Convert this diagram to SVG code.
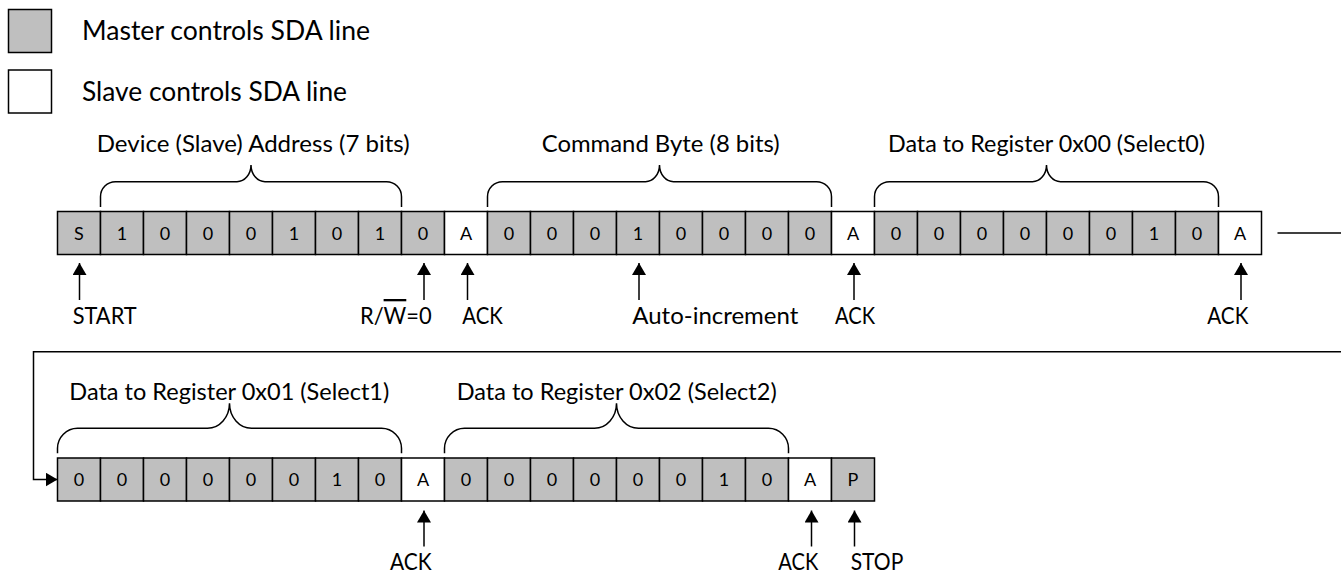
<svg xmlns="http://www.w3.org/2000/svg" width="1341" height="574" viewBox="0 0 1341 574">
<defs>
<style>
text{font-family:Lato,"Open Sans","Liberation Sans",sans-serif;fill:#000}
.m{fill:#bfbfbf;stroke:#000;stroke-width:1.5}
.s{fill:#fff;stroke:#000;stroke-width:1.5}
.ct{font-size:18px;text-anchor:middle}
.lg{font-size:26px}
.lb{font-size:23px}
.br{fill:none;stroke:#000;stroke-width:1.5}
.cn{fill:none;stroke:#000;stroke-width:1.5}
.ar{marker-end:url(#ah)}
</style>
<marker id="ah" markerUnits="userSpaceOnUse" viewBox="0 0 12 14" refX="12" refY="7" markerWidth="12" markerHeight="14" orient="auto">
<path d="M0,0 L12,7 L0,14 z" fill="#000"/>
</marker>
</defs>
<rect width="1341" height="574" fill="#fff"/>
<g id="legend">
<g id="legend-master"><rect class="m" x="8.5" y="9.5" width="43" height="43"/><text class="lg" x="82" y="40.3" textLength="288" lengthAdjust="spacingAndGlyphs">Master controls SDA line</text></g>
<g id="legend-slave"><rect class="s" x="8.5" y="70" width="43" height="43"/><text class="lg" x="82" y="100.8" textLength="265" lengthAdjust="spacingAndGlyphs">Slave controls SDA line</text></g>
</g>
<g id="row1">
<g id="r1c0"><rect class="m" x="57.5" y="211.5" width="43" height="43"/><text class="ct" x="79" y="239.5">S</text></g>
<g id="r1c1"><rect class="m" x="100.5" y="211.5" width="43" height="43"/><text class="ct" x="122" y="239.5">1</text></g>
<g id="r1c2"><rect class="m" x="143.5" y="211.5" width="43" height="43"/><text class="ct" x="165" y="239.5">0</text></g>
<g id="r1c3"><rect class="m" x="186.5" y="211.5" width="43" height="43"/><text class="ct" x="208" y="239.5">0</text></g>
<g id="r1c4"><rect class="m" x="229.5" y="211.5" width="43" height="43"/><text class="ct" x="251" y="239.5">0</text></g>
<g id="r1c5"><rect class="m" x="272.5" y="211.5" width="43" height="43"/><text class="ct" x="294" y="239.5">1</text></g>
<g id="r1c6"><rect class="m" x="315.5" y="211.5" width="43" height="43"/><text class="ct" x="337" y="239.5">0</text></g>
<g id="r1c7"><rect class="m" x="358.5" y="211.5" width="43" height="43"/><text class="ct" x="380" y="239.5">1</text></g>
<g id="r1c8"><rect class="m" x="401.5" y="211.5" width="43" height="43"/><text class="ct" x="423" y="239.5">0</text></g>
<g id="r1c9"><rect class="s" x="444.5" y="211.5" width="43" height="43"/><text class="ct" x="466" y="239.5">A</text></g>
<g id="r1c10"><rect class="m" x="487.5" y="211.5" width="43" height="43"/><text class="ct" x="509" y="239.5">0</text></g>
<g id="r1c11"><rect class="m" x="530.5" y="211.5" width="43" height="43"/><text class="ct" x="552" y="239.5">0</text></g>
<g id="r1c12"><rect class="m" x="573.5" y="211.5" width="43" height="43"/><text class="ct" x="595" y="239.5">0</text></g>
<g id="r1c13"><rect class="m" x="616.5" y="211.5" width="43" height="43"/><text class="ct" x="638" y="239.5">1</text></g>
<g id="r1c14"><rect class="m" x="659.5" y="211.5" width="43" height="43"/><text class="ct" x="681" y="239.5">0</text></g>
<g id="r1c15"><rect class="m" x="702.5" y="211.5" width="43" height="43"/><text class="ct" x="724" y="239.5">0</text></g>
<g id="r1c16"><rect class="m" x="745.5" y="211.5" width="43" height="43"/><text class="ct" x="767" y="239.5">0</text></g>
<g id="r1c17"><rect class="m" x="788.5" y="211.5" width="43" height="43"/><text class="ct" x="810" y="239.5">0</text></g>
<g id="r1c18"><rect class="s" x="831.5" y="211.5" width="43" height="43"/><text class="ct" x="853" y="239.5">A</text></g>
<g id="r1c19"><rect class="m" x="874.5" y="211.5" width="43" height="43"/><text class="ct" x="896" y="239.5">0</text></g>
<g id="r1c20"><rect class="m" x="917.5" y="211.5" width="43" height="43"/><text class="ct" x="939" y="239.5">0</text></g>
<g id="r1c21"><rect class="m" x="960.5" y="211.5" width="43" height="43"/><text class="ct" x="982" y="239.5">0</text></g>
<g id="r1c22"><rect class="m" x="1003.5" y="211.5" width="43" height="43"/><text class="ct" x="1025" y="239.5">0</text></g>
<g id="r1c23"><rect class="m" x="1046.5" y="211.5" width="43" height="43"/><text class="ct" x="1068" y="239.5">0</text></g>
<g id="r1c24"><rect class="m" x="1089.5" y="211.5" width="43" height="43"/><text class="ct" x="1111" y="239.5">0</text></g>
<g id="r1c25"><rect class="m" x="1132.5" y="211.5" width="43" height="43"/><text class="ct" x="1154" y="239.5">1</text></g>
<g id="r1c26"><rect class="m" x="1175.5" y="211.5" width="43" height="43"/><text class="ct" x="1197" y="239.5">0</text></g>
<g id="r1c27"><rect class="s" x="1218.5" y="211.5" width="43" height="43"/><text class="ct" x="1240" y="239.5">A</text></g>
</g>
<g id="row2">
<g id="r2c0"><rect class="m" x="57.5" y="458" width="43" height="43"/><text class="ct" x="79" y="486">0</text></g>
<g id="r2c1"><rect class="m" x="100.5" y="458" width="43" height="43"/><text class="ct" x="122" y="486">0</text></g>
<g id="r2c2"><rect class="m" x="143.5" y="458" width="43" height="43"/><text class="ct" x="165" y="486">0</text></g>
<g id="r2c3"><rect class="m" x="186.5" y="458" width="43" height="43"/><text class="ct" x="208" y="486">0</text></g>
<g id="r2c4"><rect class="m" x="229.5" y="458" width="43" height="43"/><text class="ct" x="251" y="486">0</text></g>
<g id="r2c5"><rect class="m" x="272.5" y="458" width="43" height="43"/><text class="ct" x="294" y="486">0</text></g>
<g id="r2c6"><rect class="m" x="315.5" y="458" width="43" height="43"/><text class="ct" x="337" y="486">1</text></g>
<g id="r2c7"><rect class="m" x="358.5" y="458" width="43" height="43"/><text class="ct" x="380" y="486">0</text></g>
<g id="r2c8"><rect class="s" x="401.5" y="458" width="43" height="43"/><text class="ct" x="423" y="486">A</text></g>
<g id="r2c9"><rect class="m" x="444.5" y="458" width="43" height="43"/><text class="ct" x="466" y="486">0</text></g>
<g id="r2c10"><rect class="m" x="487.5" y="458" width="43" height="43"/><text class="ct" x="509" y="486">0</text></g>
<g id="r2c11"><rect class="m" x="530.5" y="458" width="43" height="43"/><text class="ct" x="552" y="486">0</text></g>
<g id="r2c12"><rect class="m" x="573.5" y="458" width="43" height="43"/><text class="ct" x="595" y="486">0</text></g>
<g id="r2c13"><rect class="m" x="616.5" y="458" width="43" height="43"/><text class="ct" x="638" y="486">0</text></g>
<g id="r2c14"><rect class="m" x="659.5" y="458" width="43" height="43"/><text class="ct" x="681" y="486">0</text></g>
<g id="r2c15"><rect class="m" x="702.5" y="458" width="43" height="43"/><text class="ct" x="724" y="486">1</text></g>
<g id="r2c16"><rect class="m" x="745.5" y="458" width="43" height="43"/><text class="ct" x="767" y="486">0</text></g>
<g id="r2c17"><rect class="s" x="788.5" y="458" width="43" height="43"/><text class="ct" x="810" y="486">A</text></g>
<g id="r2c18"><rect class="m" x="831.5" y="458" width="43" height="43"/><text class="ct" x="853" y="486">P</text></g>
</g>
<g id="braces">
<g id="brace-address"><path class="br" d="M100.5,207 V196.7 A15,15 0 0 1 115.5,181.7 H237 A14,16.7 0 0 0 251,165 A14,16.7 0 0 0 265,181.7 H386.5 A15,15 0 0 1 401.5,196.7 V207"/><text class="lb" x="96.7" y="152" textLength="313" lengthAdjust="spacingAndGlyphs">Device (Slave) Address (7 bits)</text></g>
<g id="brace-command"><path class="br" d="M487.5,207 V196.7 A15,15 0 0 1 502.5,181.7 H645.5 A14,16.7 0 0 0 659.5,165 A14,16.7 0 0 0 673.5,181.7 H816.5 A15,15 0 0 1 831.5,196.7 V207"/><text class="lb" x="541.7" y="152" textLength="238" lengthAdjust="spacingAndGlyphs">Command Byte (8 bits)</text></g>
<g id="brace-data0"><path class="br" d="M874.5,207 V196.7 A15,15 0 0 1 889.5,181.7 H1032.5 A14,16.7 0 0 0 1046.5,165 A14,16.7 0 0 0 1060.5,181.7 H1203.5 A15,15 0 0 1 1218.5,196.7 V207"/><text class="lb" x="888" y="152" textLength="317" lengthAdjust="spacingAndGlyphs">Data to Register 0x00 (Select0)</text></g>
<g id="brace-data1"><path class="br" d="M57.5,453.3 V448.3 A20,20 0 0 1 77.5,428.3 H207.5 A22,25 0 0 0 229.5,403.3 A22,25 0 0 0 251.5,428.3 H381.5 A20,20 0 0 1 401.5,448.3 V453.3"/><text class="lb" x="69.3" y="399.5" textLength="320" lengthAdjust="spacingAndGlyphs">Data to Register 0x01 (Select1)</text></g>
<g id="brace-data2"><path class="br" d="M444.5,453.3 V448.3 A20,20 0 0 1 464.5,428.3 H594.5 A22,25 0 0 0 616.5,403.3 A22,25 0 0 0 638.5,428.3 H768.5 A20,20 0 0 1 788.5,448.3 V453.3"/><text class="lb" x="456.7" y="399.5" textLength="320" lengthAdjust="spacingAndGlyphs">Data to Register 0x02 (Select2)</text></g>
</g>
<g id="labels">
<text id="lbl-start" class="lb" x="72.7" y="324" textLength="64" lengthAdjust="spacingAndGlyphs">START</text>
<text id="lbl-rw" class="lb" x="360" y="324" textLength="71.7" lengthAdjust="spacingAndGlyphs">R/<tspan style="text-decoration:overline">W</tspan>=0</text>
<text id="lbl-ack1" class="lb" x="462.3" y="324" textLength="40.5" lengthAdjust="spacingAndGlyphs">ACK</text>
<text id="lbl-auto" class="lb" x="632.3" y="324" textLength="166" lengthAdjust="spacingAndGlyphs">Auto-increment</text>
<text id="lbl-ack2" class="lb" x="835" y="324" textLength="40" lengthAdjust="spacingAndGlyphs">ACK</text>
<text id="lbl-ack3" class="lb" x="1207.3" y="324" textLength="41" lengthAdjust="spacingAndGlyphs">ACK</text>
<text id="lbl-ack4" class="lb" x="390" y="570" textLength="41.7" lengthAdjust="spacingAndGlyphs">ACK</text>
<text id="lbl-ack5" class="lb" x="778.3" y="570" textLength="40" lengthAdjust="spacingAndGlyphs">ACK</text>
<text id="lbl-stop" class="lb" x="850.7" y="570" textLength="52.6" lengthAdjust="spacingAndGlyphs">STOP</text>
</g>
<g id="connectors">
<line class="cn ar" x1="79.5" y1="300" x2="79.5" y2="263"/>
<line class="cn ar" x1="424" y1="300" x2="424" y2="263"/>
<line class="cn ar" x1="467.5" y1="300" x2="467.5" y2="263"/>
<line class="cn ar" x1="639" y1="300" x2="639" y2="263"/>
<line class="cn ar" x1="854" y1="300" x2="854" y2="263"/>
<line class="cn ar" x1="1241" y1="300" x2="1241" y2="263"/>
<line class="cn ar" x1="424" y1="546.5" x2="424" y2="510.5"/>
<line class="cn ar" x1="811.5" y1="546.5" x2="811.5" y2="510.5"/>
<line class="cn ar" x1="854.5" y1="546.5" x2="854.5" y2="510.5"/>
<line class="cn" x1="1277.5" y1="233" x2="1341" y2="233"/>
<path class="cn ar" d="M1341,351.7 H33.5 V479.5 H57.5"/>
</g>
</svg>
